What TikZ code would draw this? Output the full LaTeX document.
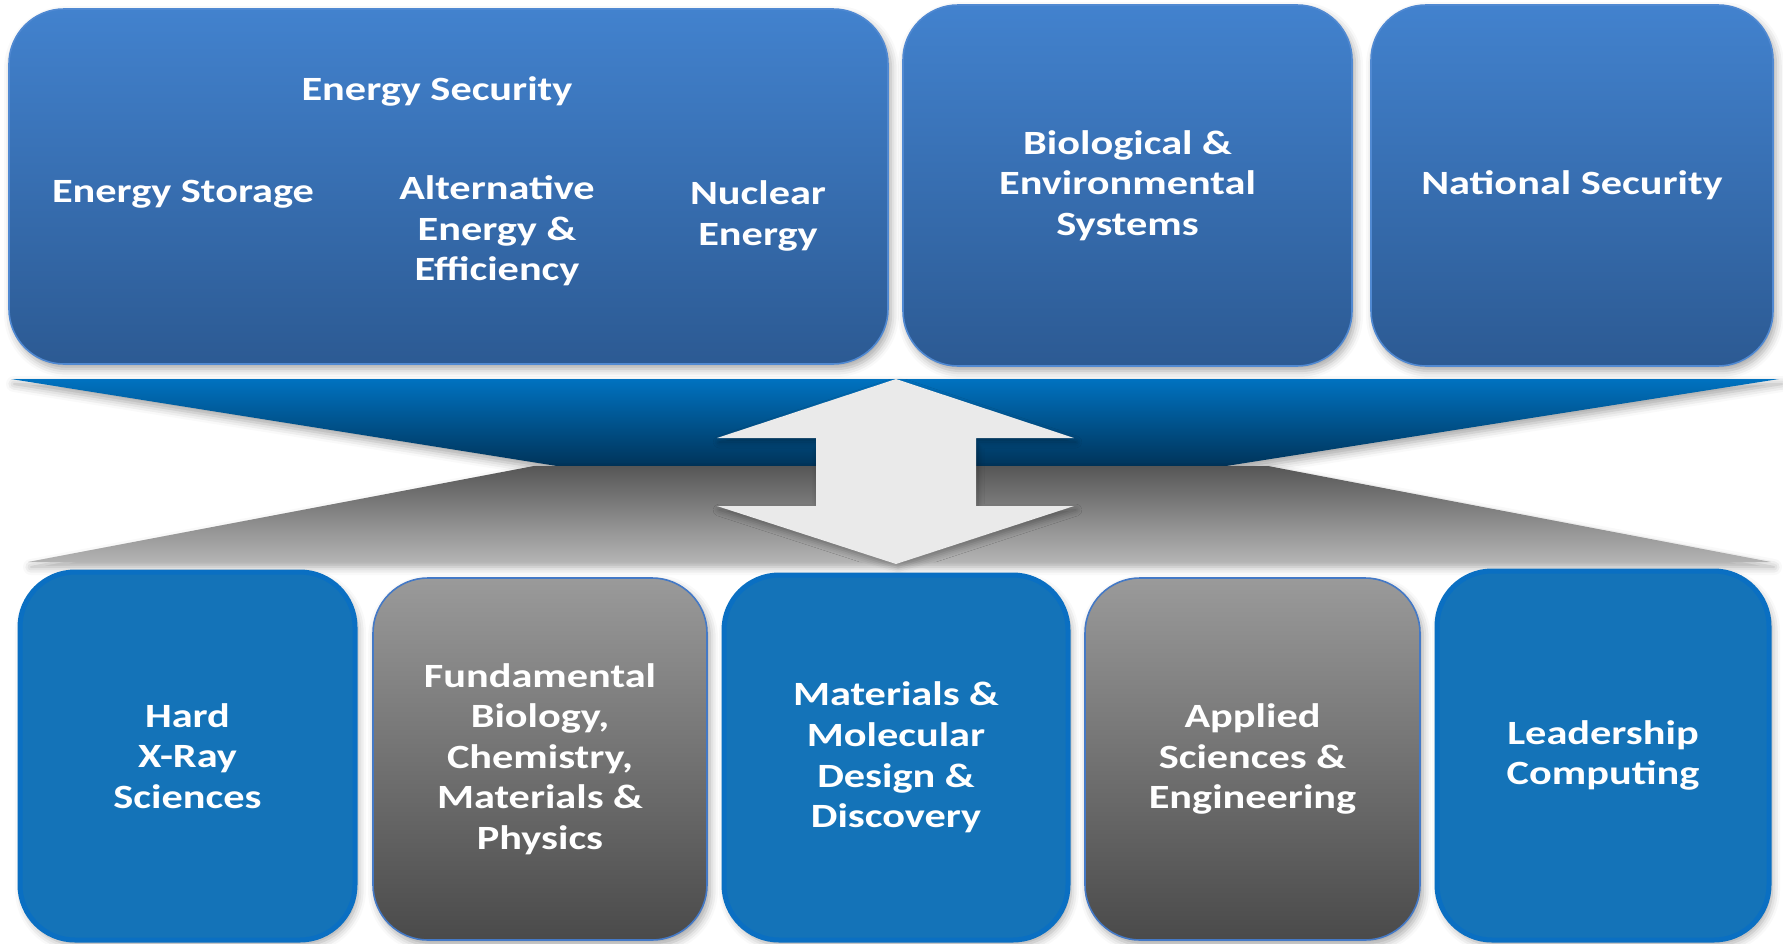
\documentclass[tikz,border=0pt]{standalone}
\usepackage{fontspec}
\setmainfont{Carlito}[FakeStretch=1.245]
\usetikzlibrary{shadows.blur}
\definecolor{topA}{HTML}{4282CE}
\definecolor{topB}{HTML}{2C5A93}
\definecolor{topEdge}{HTML}{5089D2}
\definecolor{bandA}{HTML}{0072C0}
\definecolor{bandB}{HTML}{0062A4}
\definecolor{bandC}{HTML}{00345A}
\definecolor{grayA}{HTML}{565656}
\definecolor{grayB}{HTML}{8A8A8A}
\definecolor{grayC}{HTML}{B4B4B4}
\definecolor{botBlue}{HTML}{1473B8}
\definecolor{botEdge}{HTML}{0A6FC2}
\definecolor{gboxA}{HTML}{9A9A9A}
\definecolor{gboxB}{HTML}{4A4A4A}
\definecolor{gboxEdge}{HTML}{4479C6}
\definecolor{arrowGray}{HTML}{EAEAEA}
\begin{document}
\begin{tikzpicture}[x=0.5pt,y=-0.5pt,
  softshadow/.style={blur shadow={shadow xshift=1.5pt,shadow yshift=-2.5pt,shadow blur radius=4pt,shadow opacity=35}},
  txt/.style={text=white,align=center,font=\bfseries\fontsize{17}{20.3}\selectfont,inner sep=0pt},
  topbox/.style={rounded corners=27.5pt,top color=topA,bottom color=topB,draw=topEdge,line width=0.8pt,inner sep=0pt,softshadow,txt},
  bluebox/.style={rounded corners=27.5pt,fill=botBlue,draw=botEdge,line width=2.5pt,inner sep=0pt,softshadow,txt},
  graybox/.style={rounded corners=27.5pt,top color=gboxA,bottom color=gboxB,draw=gboxEdge,line width=0.8pt,inner sep=0pt,softshadow,txt}
]
\useasboundingbox (0,0) rectangle (1783,943);

% top boxes
\node[topbox,minimum width=439.5pt,minimum height=177.5pt] (es) at (448.5,186.5) {};
\node[txt] (esT) at (437,91) {Energy Security};
\node[txt] (stor) at (183,194) {Energy Storage};
\node[txt] (alt) at (497,231) {Alternative\\Energy \&\\Efficiency};
\node[txt] (nuc) at (758,216) {Nuclear\\Energy};
\node[topbox,minimum width=224.5pt,minimum height=180.5pt] (bio) at (1127.5,185.5) {Biological \&\\Environmental\\Systems};
\node[topbox,minimum width=201pt,minimum height=180.5pt] (nat) at (1572,185.5) {National Security};

% band
\path[softshadow,top color=bandA,middle color=bandB,bottom color=bandC]
  (11,379) -- (1779,379) -- (1226,466) -- (557,466) -- cycle;
\path[softshadow,top color=grayA,middle color=grayB,bottom color=grayC]
  (534,466) -- (1268,466) -- (1771,562) -- (28,562) -- cycle;

% double arrow
\path[fill=arrowGray,blur shadow={shadow xshift=1pt,shadow yshift=-2pt,shadow blur radius=3pt,shadow opacity=30}]
  (896,379) -- (1074,438) -- (976,438) -- (976,506) -- (1074,506) -- (896,564)
  -- (717,506) -- (816,506) -- (816,438) -- (717,438) -- cycle;

% bottom boxes
\node[bluebox,minimum width=167.5pt,minimum height=184pt] (hx) at (187.5,756) {Hard\\X-Ray\\Sciences};
\node[graybox,minimum width=167pt,minimum height=181pt] (fb) at (540,759) {Fundamental\\Biology,\\Chemistry,\\Materials \&\\Physics};
\node[bluebox,minimum width=172pt,minimum height=182.5pt] (mm) at (896,757.5) {Materials \&\\Molecular\\Design \&\\Discovery};
\node[graybox,minimum width=167.5pt,minimum height=181pt] (ap) at (1252.5,759) {Applied\\Sciences \&\\Engineering};
\node[bluebox,minimum width=166pt,minimum height=184.5pt] (lc) at (1603,755.5) {Leadership\\Computing};
\end{tikzpicture}
\end{document}
